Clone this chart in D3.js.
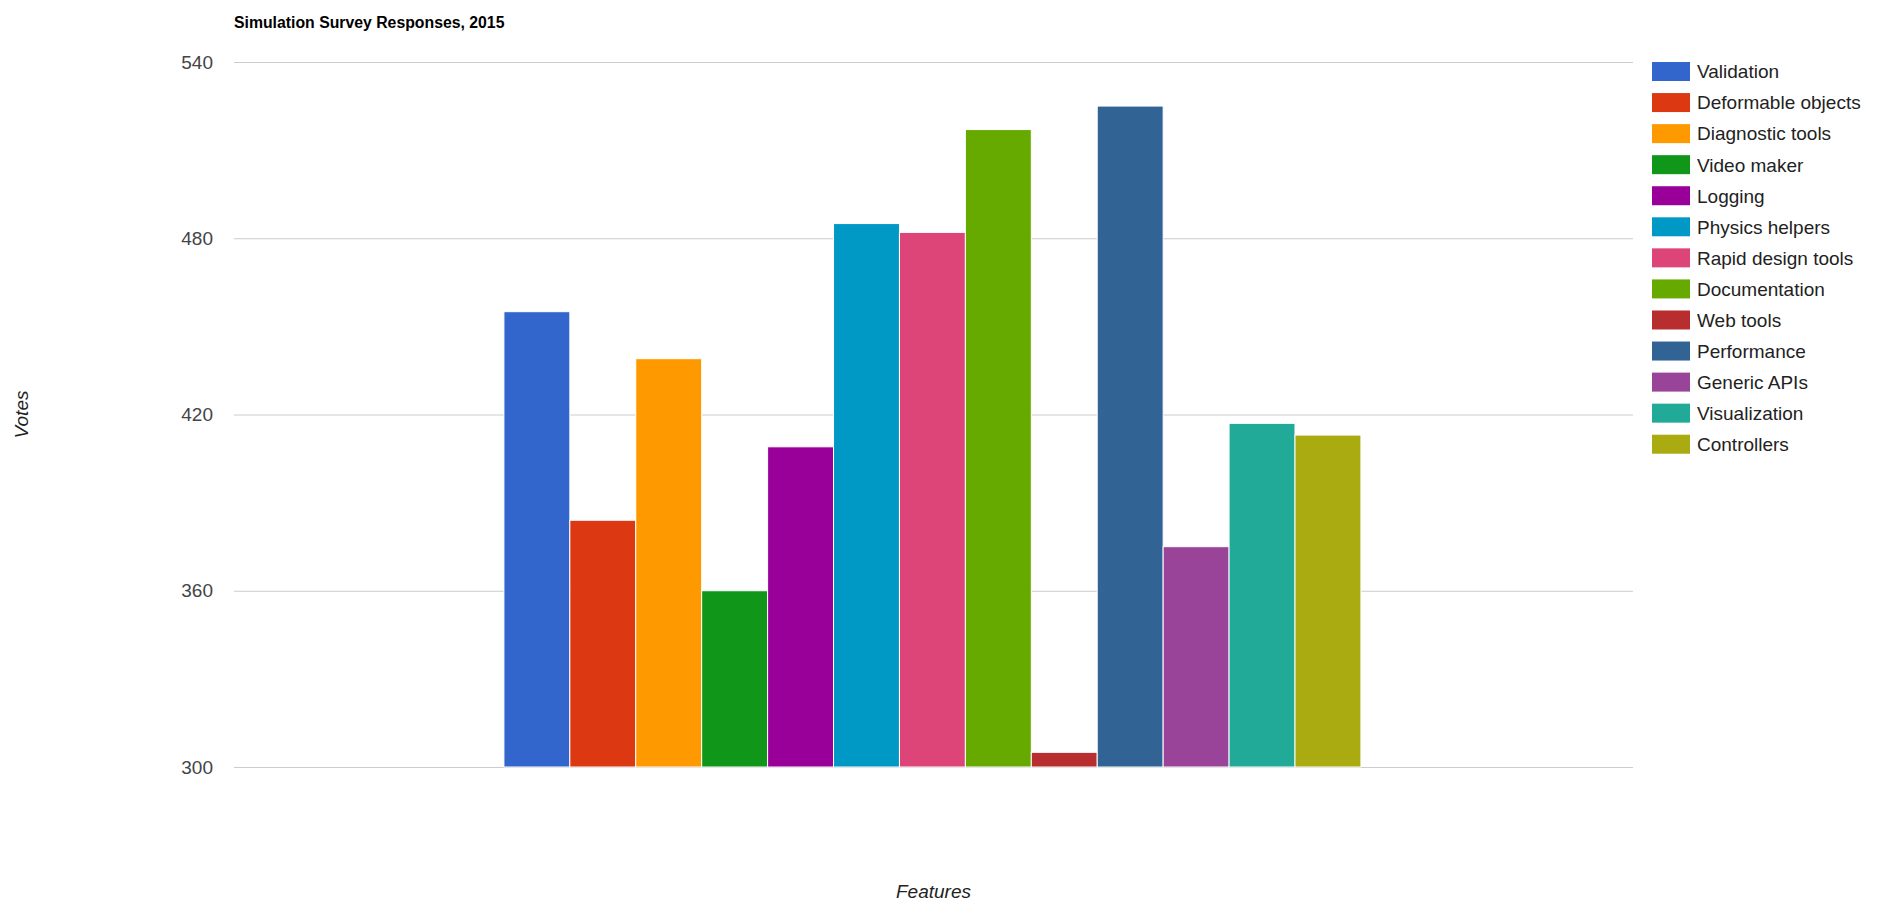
<!DOCTYPE html>
<html>
<head>
<meta charset="utf-8">
<script src="https://cdn.jsdelivr.net/npm/d3@7"></script>
<style>
  body { margin: 0; background: #fff; }
  text { font-family: "Liberation Sans", Arial, sans-serif; }
</style>
</head>
<body>
<div class="bar-chart"></div>
<script>
// data
const features = ["Validation", "Deformable objects", "Diagnostic tools", "Video maker", "Logging",
    "Physics helpers", "Rapid design tools", "Documentation", "Web tools", "Performance",
    "Generic APIs", "Visualization", "Controllers"];
const votes = [455, 384, 439, 360, 409, 485, 482, 517, 305, 525, 375, 417, 413];
const colors = ["#3366cc", "#dc3912", "#ff9900", "#109618", "#990099", "#0099c6", "#dd4477",
    "#66aa00", "#b82e2e", "#316395", "#994499", "#22aa99", "#aaaa11"];
const yTicks = [300, 360, 420, 480, 540];
const groups = [""];

const margin = { top: 62, right: 247, bottom: 144, left: 234 };
const width = 1880 - margin.left - margin.right;
const height = 911 - margin.top - margin.bottom;

const root = d3.select('.bar-chart')
    .append('svg')
    .attr("width", 1880)
    .attr("height", 911);

const svg = root.append("g")
    .attr("transform", "translate(" + margin.left + "," + margin.top + ")");

const data = features.map((f, i) => ({ name: f, total: votes[i], color: colors[i] }));

// one group of bars, ~61% of the plot width
const x0 = d3.scaleBand()
    .domain(groups)
    .range([0, width])
    .paddingOuter((width / 857 - 1) / 2)
    .align(0.498);

const x1 = d3.scaleBand()
    .domain(features)
    .range([0, x0.bandwidth()]);

const y = d3.scaleLinear()
    .domain([300, 540])
    .range([height, 0]);

// gridlines + tick labels
const yaxis = d3.axisLeft(y)
    .tickValues(yTicks)
    .tickSize(-width)
    .tickPadding(21);

const gy = svg.append('g').call(yaxis);
gy.select('.domain').remove();
gy.selectAll('.tick line').attr('stroke', '#cccccc');
gy.selectAll('.tick text')
    .attr('fill', '#444444')
    .style('font-size', '19px');

// bars
svg.append('g')
    .attr('transform', 'translate(' + x0("") + ',0)')
    .selectAll('.bar')
    .data(data)
    .enter()
    .append('rect')
    .attr('class', 'bar')
    .attr('x', d => x1(d.name))
    .attr('y', d => y(d.total))
    .attr('width', x1.bandwidth())
    .attr('height', d => height - y(d.total))
    .attr('fill', d => d.color)
    .attr('stroke', '#ffffff')
    .attr('stroke-width', 1);

// title
root.append('text')
    .attr('x', margin.left)
    .attr('y', 28)
    .style('font-size', '15.8px')
    .style('font-weight', 'bold')
    .attr('fill', '#000')
    .text('Simulation Survey Responses, 2015');

// axis titles
root.append('text')
    .attr('x', margin.left + width / 2)
    .attr('y', 898)
    .attr('text-anchor', 'middle')
    .style('font-size', '19px')
    .style('font-style', 'italic')
    .attr('fill', '#222')
    .text('Features');

root.append('text')
    .attr('transform', 'translate(28,' + (margin.top + height / 2) + ') rotate(-90)')
    .attr('text-anchor', 'middle')
    .style('font-size', '19px')
    .style('font-style', 'italic')
    .attr('fill', '#222')
    .text('Votes');

// legend
const legend = root.append('g')
    .attr('transform', 'translate(1652,62)');

const item = legend.selectAll('.item')
    .data(data)
    .enter()
    .append('g')
    .attr('class', 'item')
    .attr('transform', (d, i) => 'translate(0,' + (i * 31.06) + ')');

item.append('rect')
    .attr('width', 38)
    .attr('height', 19)
    .attr('fill', d => d.color);

item.append('text')
    .attr('x', 45)
    .attr('y', 9.5)
    .attr('dy', '0.36em')
    .style('font-size', '19px')
    .attr('fill', '#222')
    .text(d => d.name);
</script>
</body>
</html>
